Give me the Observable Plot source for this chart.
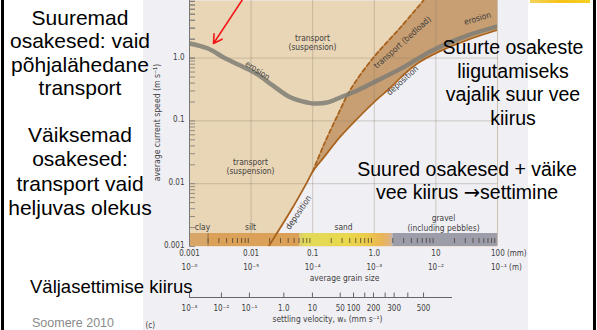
<!DOCTYPE html>
<html>
<head>
<meta charset="utf-8">
<script src="https://cdn.jsdelivr.net/npm/d3@7"></script>
<script src="https://cdn.jsdelivr.net/npm/@observablehq/plot@0.6"></script>
<style>
  html, body { margin:0; padding:0; background:#fff; }
  #wrap { position:relative; width:597px; height:330px; overflow:hidden; background:#fff; }
  #scan { position:absolute; left:143px; top:0; width:385px; height:330px; background:#f0eff4; }
  #chart { position:absolute; left:0; top:0; }
  .note { position:absolute; font-family:"Liberation Sans", Arial, sans-serif; color:#000; text-align:center; white-space:nowrap; transform:translateX(-50%); }
  .arrow { font-family:"DejaVu Sans", sans-serif; }
  .border { position:absolute; top:0; width:3px; height:330px; background:#000; }
</style>
</head>
<body>
<div id="wrap">
  <div id="scan"></div>
  <div id="chart"></div>
  <div class="border" style="left:1px"></div>
  <div class="border" style="left:593px"></div>
  <div style="position:absolute;left:530px;top:0;width:60px;height:3px;background:linear-gradient(90deg,#f3d35a,#f7c21a,#f5d020);"></div>
  <div class="note" style="left:80px;top:6px;font-size:21px;line-height:23.3px">Suuremad<br>osakesed: vaid<br>põhjalähedane<br>transport</div>
  <div class="note" style="left:80px;top:123px;font-size:21px;line-height:24.3px">Väiksemad<br>osakesed:<br>transport vaid<br>heljuvas olekus</div>
  <div class="note" style="left:513px;top:36px;font-size:19.5px;line-height:23.5px">Suurte osakeste<br>liigutamiseks<br>vajalik suur vee<br>kiirus</div>
  <div class="note" style="left:467px;top:158px;font-size:19.5px;line-height:23px">Suured osakesed + väike<br>vee kiirus <span class="arrow">→</span>settimine</div>
  <div class="note" style="left:30px;top:276px;font-size:18.5px;line-height:22px;transform:none;text-align:left">Väljasettimise kiirus</div>
  <div class="note" style="left:73px;top:316px;font-size:12.5px;line-height:14px;color:#8a8a8a">Soomere 2010</div>
</div>
<script>
// ---------- data (grain size in mm, speed in m/s) ----------
const erosionGrain = [0.001, 0.002, 0.0036, 0.0067, 0.0127, 0.023, 0.044, 0.082, 0.10, 0.17, 0.28, 0.53, 0.97, 2.7, 9.1, 33, 100];
const erosionSpeed = [1.71, 1.42, 1.02, 0.76, 0.55, 0.36, 0.235, 0.196, 0.19, 0.196, 0.236, 0.305, 0.41, 0.68, 1.35, 2.3, 3.2];

const depositionGrain = [0.0192, 0.044, 0.082, 0.10, 0.15, 0.28, 0.53, 0.97, 1.83, 2.66, 5.0, 11.9, 32.6, 100];
const depositionSpeed = [0.001, 0.0037, 0.0108, 0.0156, 0.026, 0.056, 0.109, 0.196, 0.34, 0.49, 0.82, 1.3, 1.95, 2.8];

const bedloadGrain = [0.10, 0.15, 0.253, 0.411, 0.97, 2.66, 6.29];
const bedloadSpeed = [0.0156, 0.0406, 0.122, 0.316, 1.02, 3.07, 8.26];

const classNames = ["clay", "silt", "sand", "gravel"];
const classFrom = [0.001, 0.002, 0.0625, 2];
const classTo = [0.002, 0.0625, 2, 100];

const grainTicks = [0.001, 0.01, 0.1, 1, 10, 100];
const grainTickMm = ["0.001", "0.01", "0.1", "1.0", "10", "100 (mm)"];
const grainTickM = ["10⁻⁶", "10⁻⁵", "10⁻⁴", "10⁻³", "10⁻²", "10⁻¹ (m)"];

const speedTicks = [0.001, 0.01, 0.1, 1];
const speedTickLabels = ["0.001", "0.01", "0.1", "1.0"];

// settling velocity (mm/s) and the grain size it sits under on the chart
const settlingLabels = ["10⁻³", "10⁻²", "10⁻¹", "1.0", "10", "50", "100", "", "200", "", "300", "", "500"];
const settlingGrain  = [0.001, 0.0033, 0.0094, 0.034, 0.099, 0.28, 0.46, 0.70, 0.97, 1.5, 2.1, 3.5, 6.3];

// ---------- layout ----------
const W = 597, H = 330;
const M = {left: 189, right: 100, top: 0, bottom: 84};
const xDomain = [0.001, 100];
const yDomain = [0.001, 8.26];
const xs = Plot.scale({x: {type: "log", domain: xDomain, range: [M.left, W - M.right]}});
const ys = Plot.scale({y: {type: "log", domain: yDomain, range: [H - M.bottom, M.top]}});
const px = v => xs.invert(v);
const py = v => ys.invert(v);

const FIG = '"DejaVu Sans Condensed","Liberation Sans Narrow",sans-serif';
const BEIGE = "#e9d6b6", BROWN = "#c89f72", PAPER = "#f0eff4", LINE = "#a9621c", GRID = "#8a7d6a", INK = "#3e3e3e";
const CLASS_FILL = {clay: "#d8a666", silt: "#dba158", sand: "url(#sandGrad)", gravel: "#9d9daa"};
const TICK_FS = 8, LAB_FS = 8.4;

const erosion = erosionGrain.map((g, i) => ({g, v: erosionSpeed[i]}));
const deposition = depositionGrain.map((g, i) => ({g, v: depositionSpeed[i]}));
const bedload = bedloadGrain.map((g, i) => ({g, v: bedloadSpeed[i]}));
const grainClasses = classNames.map((name, i) => ({name, from: classFrom[i], to: classTo[i]}));
const settling = settlingGrain.map((g, i) => ({g, label: settlingLabels[i]}));

const barMinor = d3.range(-3, 2).flatMap(k => d3.range(2, 10).map(m => m * 10 ** k));
const yMinor = d3.range(-3, 1).flatMap(k => d3.range(1, 10).map(m => m * 10 ** k)).concat([1, 2, 3, 4, 5, 6, 7, 8]);

const lab = (text, x, y, o = {}) => Plot.text([text], {x: px(x), y: py(y), text: d => d, fontSize: LAB_FS, fill: INK, ...o});

const fig = Plot.plot({
  width: W, height: H,
  marginLeft: M.left, marginRight: M.right, marginTop: M.top, marginBottom: M.bottom,
  x: {type: "log", domain: xDomain, axis: null},
  y: {type: "log", domain: yDomain, axis: null},
  style: {background: "transparent", fontFamily: FIG, overflow: "visible"},
  marks: [
    Plot.frame({fill: BEIGE, stroke: null}),
    Plot.areaY(bedload, {x: "g", y1: yDomain[0], y2: "v", fill: BROWN, curve: "catmull-rom", clip: true}),
    Plot.rect([0], {x1: bedloadGrain[bedloadGrain.length - 1], x2: xDomain[1], y1: yDomain[0], y2: yDomain[1], fill: BROWN}),
    Plot.areaY(deposition, {x: "g", y1: yDomain[0], y2: "v", fill: PAPER, curve: "catmull-rom", clip: true}),
    Plot.ruleX([0.01, 0.1, 1, 10, 100], {stroke: GRID, strokeOpacity: 0.35}),
    Plot.ruleY([0.01, 0.1, 1], {stroke: GRID, strokeOpacity: 0.35}),
    // grain size bar
    Plot.rect(grainClasses, {x1: "from", x2: "to", y1: yDomain[0], y2: py(233), fill: d => CLASS_FILL[d.name]}),
    Plot.ruleX(barMinor, {y1: py(243), y2: py(238), stroke: "#3d3328", strokeOpacity: 0.7}),
    Plot.ruleX([0.002], {y1: yDomain[0], y2: py(233), stroke: "#7a6448", strokeOpacity: 0.8}),
    // curves
    Plot.line(deposition, {x: "g", y: "v", stroke: LINE, strokeWidth: 1.8, curve: "catmull-rom", clip: true}),
    Plot.line(bedload, {x: "g", y: "v", stroke: LINE, strokeWidth: 1.8, strokeDasharray: "4,3", curve: "catmull-rom", clip: true}),
    Plot.line(erosion, {x: "g", y: "v", stroke: "#7f7e75", strokeOpacity: 0.85, strokeWidth: 4.5, curve: "catmull-rom", clip: true}),
    // y axis
    Plot.ruleX([xDomain[0]], {stroke: "#777", strokeWidth: 1}),
    Plot.ruleY(yMinor, {x1: xDomain[0], x2: px(195), stroke: "#777", strokeWidth: 0.8}),
    Plot.text(speedTicks, {x: xDomain[0], y: d => d, text: (d, i) => speedTickLabels[i], textAnchor: "end", dx: -5, dy: -1, fontSize: TICK_FS, fill: INK}),
    lab("average current speed (m s⁻¹)", 157, 122, {rotate: -90, fontSize: 8.6}),
    // x axis (grain size)
    Plot.text(grainTicks.slice(0, 5), {x: d => d, y: py(253), text: (d, i) => grainTickMm[i], fontSize: TICK_FS, fill: INK}),
    Plot.text(grainTicks.slice(0, 5), {x: d => d, y: py(267), text: (d, i) => grainTickM[i], fontSize: TICK_FS, fill: INK}),
    Plot.text([grainTicks[5]], {x: d => d, y: py(253), text: () => grainTickMm[5], textAnchor: "start", dx: -6.5, fontSize: TICK_FS, fill: INK}),
    Plot.text([grainTicks[5]], {x: d => d, y: py(267), text: () => grainTickM[5], textAnchor: "start", dx: -6.5, fontSize: TICK_FS, fill: INK}),
    lab("average grain size", 344, 278),
    // settling velocity axis
    Plot.ruleY([py(297)], {x1: xDomain[0], x2: px(452), stroke: "#666"}),
    Plot.ruleX(settling, {x: "g", y1: py(297), y2: py(292.5), stroke: "#666"}),
    Plot.text(settling, {x: "g", y: py(308), text: "label", fontSize: TICK_FS, fill: INK}),
    lab("settling velocity, wₛ (mm s⁻¹)", 327, 319),
    lab("(c)", 145, 325, {textAnchor: "start", fontSize: 8}),
    // in-plot labels
    lab("transport\n(suspension)", 312, 42, {lineHeight: 1.05}),
    lab("transport\n(suspension)", 250, 166.5, {lineHeight: 1.05}),
    lab("erosion", 257, 70, {rotate: 33}),
    lab("transport (bedload)", 402, 42, {rotate: -42}),
    lab("deposition", 402, 80, {rotate: -42}),
    lab("deposition", 298, 212, {rotate: -56}),
    lab("erosion", 477, 18, {rotate: -17}),
    lab("clay", 202, 227),
    lab("silt", 250, 227),
    lab("sand", 343, 227),
    lab("gravel", 443, 217.5),
    lab("(including pebbles)", 443, 227.5),
    // red arrow
    Plot.arrow([0], {x1: px(244), y1: py(-4), x2: px(213), y2: py(43), stroke: "#f01818", strokeWidth: 1.6, headLength: 9})
  ]
});

document.getElementById("chart").appendChild(fig);
const svg = d3.select(fig.tagName.toLowerCase() === "svg" ? fig : fig.querySelector("svg"));
const grad = svg.insert("defs", ":first-child").append("linearGradient")
  .attr("id", "sandGrad").attr("x1", 0).attr("x2", 1).attr("y1", 0).attr("y2", 0);
[[0, "#dccf66"], [0.06, "#e2da5a"], [0.5, "#e9d84c"], [0.72, "#ebcb4a"], [0.88, "#e9b555"], [0.96, "#e2b276"], [1, "#c9b6a6"]]
  .forEach(([o, c]) => grad.append("stop").attr("offset", o).attr("stop-color", c));
</script>
</body>
</html>
